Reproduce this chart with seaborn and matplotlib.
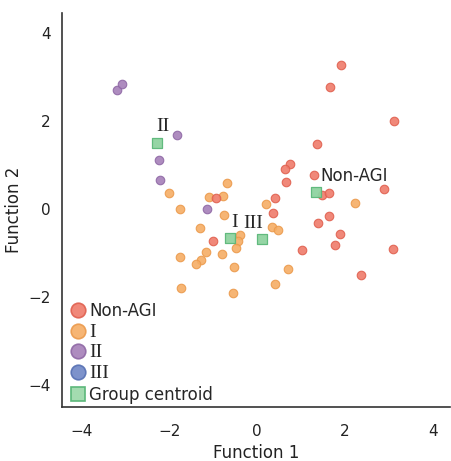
import pandas as pd
import numpy as np
import seaborn as sns
from matplotlib import pyplot as plt
from matplotlib.lines import Line2D

# discriminant scores
nonagi_x = [1.91, 1.65, 3.12, 1.35, 0.74, 0.64, 1.30, 0.66, 1.48, 1.64, 2.89, 0.41, 0.36,
            1.39, 1.63, 1.88, 1.78, 1.02, 3.09, 2.36, -0.95, -1.00]
nonagi_y = [3.27, 2.76, 2.00, 1.47, 1.01, 0.91, 0.78, 0.62, 0.31, 0.37, 0.45, 0.25, -0.10,
            -0.32, -0.17, -0.56, -0.83, -0.93, -0.90, -1.51, 0.24, -0.73]
g1_x = [-2.02, -1.77, -0.70, -1.10, -0.78, -0.76, -1.30, 0.21, 0.34, 0.47, -0.39, -0.43,
        -0.48, -1.16, -0.81, -1.27, -1.39, -1.76, -0.53, -1.73, -0.55, 0.41, 2.23, 0.70]
g1_y = [0.35, -0.01, 0.58, 0.27, 0.29, -0.14, -0.44, 0.11, -0.41, -0.47, -0.59, -0.72,
        -0.89, -0.99, -1.02, -1.17, -1.26, -1.10, -1.32, -1.80, -1.91, -1.71, 0.13, -1.37]
g2_x = [-3.20, -3.07, -1.83, -2.23, -2.21, -1.14]
g2_y = [2.70, 2.83, 1.68, 1.12, 0.65, 0.00]

groups = ['Non-AGI', 'I', 'II', 'III']
cent_x = [1.34, -0.61, -2.29, 0.11]
cent_y = [0.38, -0.65, 1.50, -0.69]

colors = {'Non-AGI': '#ef7b6b', 'I': '#f5ad65', 'II': '#a580b8', 'III': '#6f86c6'}
edges = {'Non-AGI': '#e0604f', 'I': '#eb9a4c', 'II': '#8f68a5', 'III': '#5670b3'}

df = pd.DataFrame({
    'x': g1_x + g2_x + nonagi_x,
    'y': g1_y + g2_y + nonagi_y,
    'group': ['I'] * len(g1_x) + ['II'] * len(g2_x) + ['Non-AGI'] * len(nonagi_x),
})
cent = pd.DataFrame({'x': cent_x, 'y': cent_y, 'group': groups})

sns.set_style('white')
plt.rcParams['font.family'] = ['DejaVu Sans']
fig = plt.figure(figsize=(4.51, 4.61), dpi=100)
ax = fig.add_axes([0.137, 0.117, 0.861, 0.855])

for g in ['I', 'II', 'Non-AGI']:
    sub = df[df.group == g]
    sns.scatterplot(data=sub, x='x', y='y', ax=ax, color=colors[g], s=38,
                    edgecolor=edges[g], linewidth=0.8, alpha=0.9, legend=False, zorder=3)

sns.scatterplot(data=cent, x='x', y='y', ax=ax, marker='s', color='#8fd3a0', s=42,
                edgecolor='#5cb87a', linewidth=0.9, alpha=0.95, legend=False, zorder=4)

serif = ['Liberation Serif', 'DejaVu Serif']
ax.text(-2.15, 1.87, 'II', family=serif, fontsize=14, ha='center', va='center')
ax.text(-0.52, -0.32, 'I', family=serif, fontsize=14, ha='center', va='center')
ax.text(-0.09, -0.34, 'III', family=serif, fontsize=14, ha='center', va='center')
ax.text(1.43, 0.74, 'Non-AGI', fontsize=12, ha='left', va='center')

ax.set_xlim(-4.45, 4.39)
ax.set_ylim(-4.5, 4.45)
ax.set_xticks([-4, -2, 0, 2, 4])
ax.set_yticks([-4, -2, 0, 2, 4])
ax.tick_params(length=0, labelsize=11, colors='#222222')
ax.tick_params(axis='x', pad=12)
ax.tick_params(axis='y', pad=8)
ax.set_xlabel('Function 1', fontsize=12, color='#222222')
ax.set_ylabel('Function 2', fontsize=12, color='#222222')
sns.despine(ax=ax)
for sp in ['left', 'bottom']:
    ax.spines[sp].set_color('#333333')
    ax.spines[sp].set_linewidth(1.2)

handles = [Line2D([], [], marker='o', ls='', markersize=10.5, markerfacecolor=colors[g],
                  markeredgecolor=edges[g], markeredgewidth=1.2, alpha=0.9) for g in groups]
handles.append(Line2D([], [], marker='s', ls='', markersize=10.5, markerfacecolor='#a3dbb0',
                      markeredgecolor='#5cb87a', markeredgewidth=1.2))
leg = ax.legend(handles, groups + ['Group centroid'], loc='lower left', frameon=False,
                fontsize=12, handletextpad=0.05, labelspacing=0.22, borderaxespad=0.0,
                handlelength=1.2, bbox_to_anchor=(0.0, -0.008))
for t in leg.get_texts():
    if t.get_text() in ('I', 'II', 'III'):
        t.set_family(serif)
        t.set_fontsize(14)

fig.savefig('out.png', dpi=100)
